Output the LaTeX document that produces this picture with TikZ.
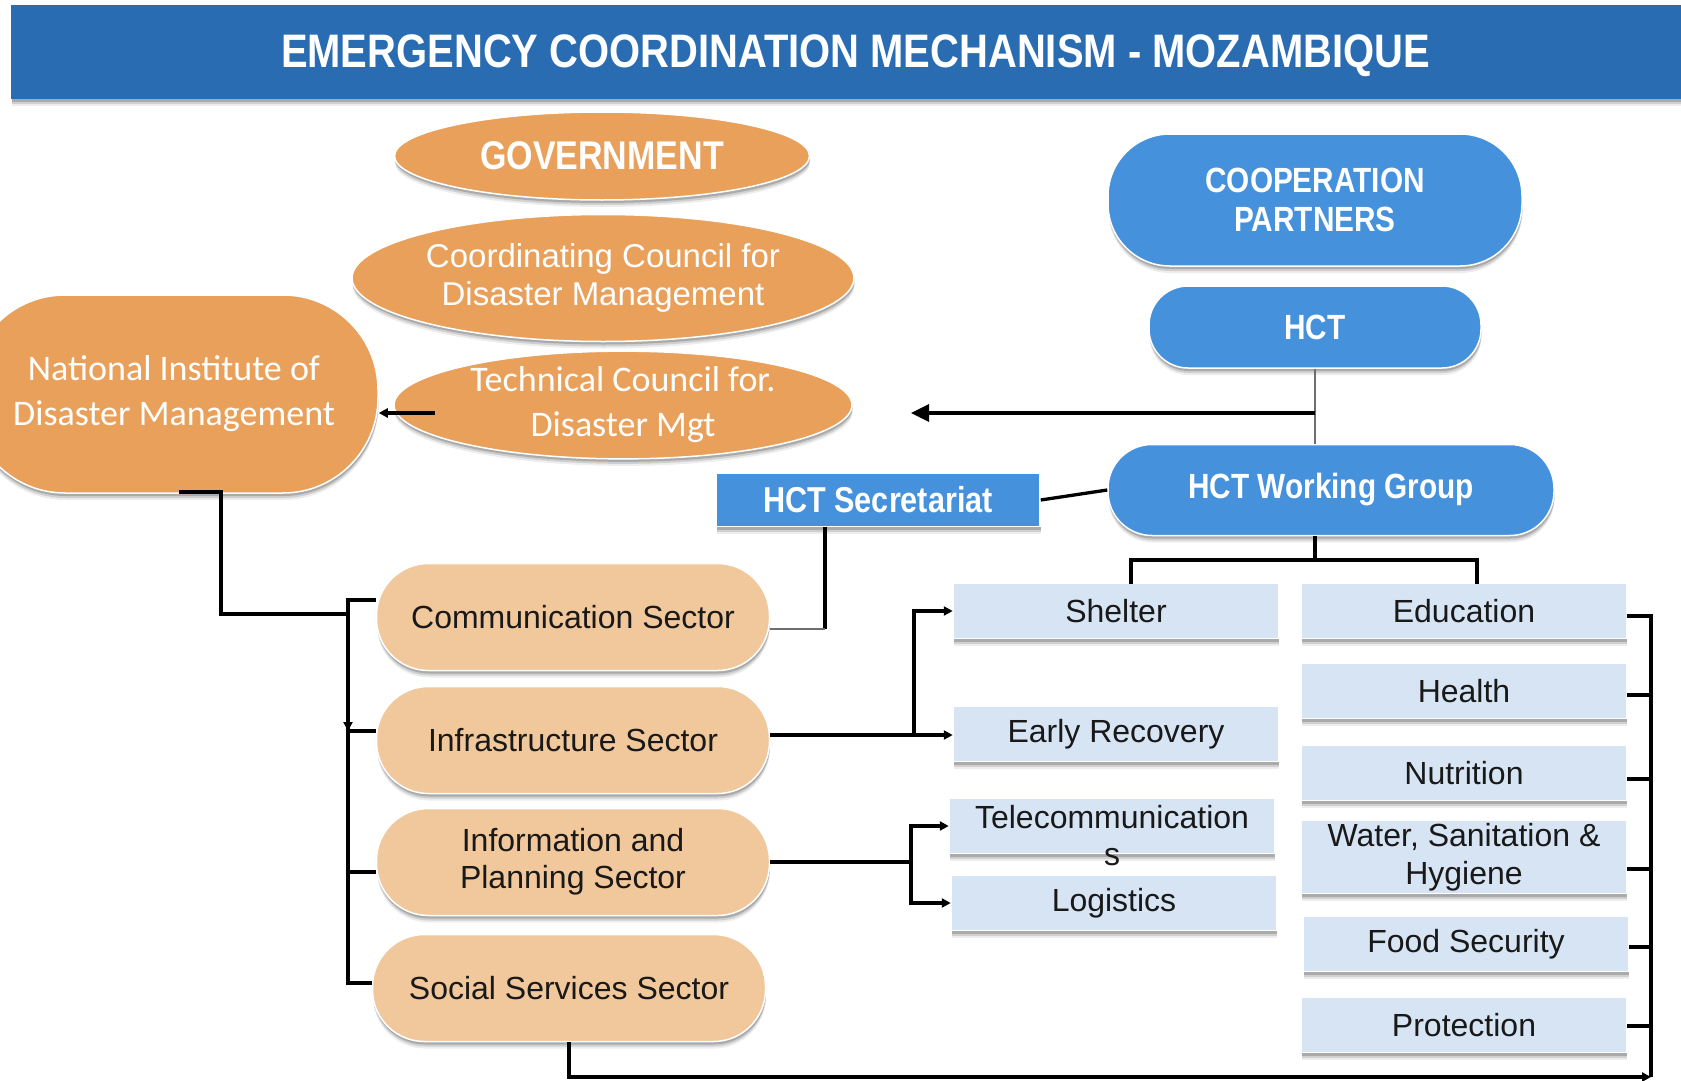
\documentclass[tikz,border=0pt]{standalone}
\usepackage{fontspec}
\setmainfont{Liberation Sans}
\newfontfamily\condfam[FakeStretch=0.85]{Liberation Sans}
\newfontfamily\calfam{Carlito}
\usetikzlibrary{shapes.geometric,shadows,arrows.meta}
\definecolor{titleblue}{RGB}{41,108,178}
\definecolor{orng}{RGB}{233,160,91}
\definecolor{peach}{RGB}{241,199,156}
\definecolor{hblue}{RGB}{70,145,220}
\definecolor{lbox}{RGB}{214,228,244}
\definecolor{lgray}{RGB}{110,110,110}
\tikzset{
  shad/.style={
    drop shadow={shadow xshift=0.5pt,shadow yshift=-7pt,opacity=0.07,fill=black},
    drop shadow={shadow xshift=0.5pt,shadow yshift=-5pt,opacity=0.12,fill=black},
    drop shadow={shadow xshift=0.5pt,shadow yshift=-3pt,opacity=0.18,fill=black}},
  base/.style={inner sep=0pt, align=center, draw=white, line width=1.5pt, shad},
  bar/.style={base, rectangle, fill=titleblue, text=white, draw=none,
    font=\condfam\bfseries\fontsize{47}{50}\selectfont},
  oell/.style={base, ellipse, fill=orng, text=white},
  bstad/.style={base, rectangle, fill=hblue, text=white,
    font=\condfam\bfseries\fontsize{35}{39}\selectfont},
  sector/.style={base, rectangle, fill=peach, text=black!90, rounded corners=52pt,
    minimum width=393pt, minimum height=107pt, font=\fontsize{32}{37}\selectfont},
  cluster/.style={base, rectangle, fill=lbox, text=black!90,
    minimum width=325pt, minimum height=55pt, font=\fontsize{32}{38}\selectfont},
  conn/.style={draw=black, line width=3.3pt},
  grayconn/.style={draw=lgray, line width=2.5pt},
  bigtip/.style={-{Triangle[length=18pt,width=17pt]}},
  smalltip/.style={-{Triangle[length=9pt,width=9pt]}}
}
\begin{document}
\begin{tikzpicture}[x=1pt,y=-1pt]
\useasboundingbox (0,0) rectangle (1681,1081);
\clip (0,0) rectangle (1681,1081);

% title
\node[bar, minimum width=1689pt, minimum height=94pt] (titlebar) at (855.5,52)
  {\raisebox{-16pt}[0pt][0pt]{EMERGENCY COORDINATION MECHANISM - MOZAMBIQUE}};

% government side
\node[oell, minimum width=415pt, minimum height=88pt,
  font=\condfam\bfseries\fontsize{40}{44}\selectfont] (gov) at (602,156) {GOVERNMENT};
\node[oell, minimum width=502pt, minimum height=127pt,
  font=\fontsize{33}{38}\selectfont] (ccdm) at (603,278)
  {Coordinating Council for\\Disaster Management};
\node[base, rectangle, rounded corners=95pt, fill=orng, text=white,
  minimum width=408pt, minimum height=198pt,
  font=\calfam\fontsize{36}{45}\selectfont] (nidm) at (174,394)
  {National Institute of\\Disaster Management};
\node[oell, minimum width=458pt, minimum height=96pt,
  font=\calfam\fontsize{36}{45}\selectfont] (tcdm) at (623,405)
  {Technical Council for.\\Disaster Mgt};

% cooperation side
\node[bstad, rounded corners=62pt, minimum width=414pt, minimum height=132pt] (coop) at (1315,200)
  {COOPERATION\\PARTNERS};
\node[bstad, rounded corners=39pt, minimum width=332pt, minimum height=82pt] (hct) at (1315,327) {HCT};
\node[bstad, rounded corners=44pt, minimum width=446pt, minimum height=91pt] (wg) at (1331,490)
  {HCT Working Group};
\node[base, rectangle, fill=hblue, text=white, minimum width=324pt, minimum height=53pt,
  font=\condfam\bfseries\fontsize{36}{40}\selectfont] (sec) at (878,500) {HCT Secretariat};

% sectors
\node[sector] (comm) at (573,617) {Communication Sector};
\node[sector] (infra) at (573,740) {Infrastructure Sector};
\node[sector] (info) at (573,862) {Information and\\Planning Sector};
\node[sector] (social) at (569,988) {Social Services Sector};

% clusters left
\node[cluster] (shelter) at (1116,611) {Shelter};
\node[cluster] (er) at (1116,734) {Early Recovery};
\node[cluster] (tel) at (1112,826)
  {\raisebox{-4pt}{\smash{\begin{tabular}[t]{@{}c@{}}Telecommunication\\[-1pt]s\end{tabular}}}};
\node[cluster] (log) at (1114,903) {Logistics};
% clusters right
\node[cluster] (edu) at (1464,611) {Education};
\node[cluster] (health) at (1464,691) {Health};
\node[cluster] (nutr) at (1464,773) {Nutrition};
\node[cluster, minimum height=73pt] (wash) at (1464,857) {Water, Sanitation \&\\Hygiene};
\node[cluster] (food) at (1466,944) {Food Security};
\node[cluster] (prot) at (1464,1025) {Protection};

% connectors: government
\draw[conn, smalltip] ([xshift=42pt,yshift=-8pt]tcdm.west) -- ([yshift=-8pt]tcdm.west -| nidm.east);

\coordinate (b1) at (221,614);
\coordinate (bustop) at (348,600);
\coordinate (busL) at (348,614);
\coordinate (busbot) at (348,983);
\draw[conn, line width=3.8pt] ([xshift=5pt,yshift=2pt]nidm.south) -| (b1) -- (busL);
\draw[conn] ([yshift=17pt]comm.west) -- (bustop) -- (busbot) -- ([yshift=5pt]social.west);
\draw[conn, smalltip] (busL) -- (348,731);
\draw[conn] ([yshift=9pt]infra.west) -- ([yshift=9pt]infra.west -| bustop);
\draw[conn] ([yshift=-10pt]info.west) -- ([yshift=-10pt]info.west -| bustop);

% cooperation connectors
\coordinate (hctj) at (1315,413);
\coordinate (arrend) at (911,413);
\draw[grayconn] (hct.south) -- (hct.south |- wg.north);
\draw[conn, bigtip] (hctj) -- (arrend);
\draw[conn] (sec.east) -- (wg.west);

\coordinate (seccorner) at (825,629);
\draw[conn] (sec.south -| seccorner) -- (seccorner);
\draw[grayconn] (seccorner) -- (comm.east |- seccorner);

\coordinate (wgj) at (1315,560);
\coordinate (wgl) at (1131,584);
\coordinate (wgr) at (1477,584);
\draw[conn] (wgj |- wg.south) -- (wgj);
\draw[conn] (wgl) |- (wgj) -| (wgr);

% sector to clusters
\coordinate (infj) at (914,735);
\draw[conn, smalltip] ([yshift=5pt]infra.east) -- ([yshift=-1pt]er.west);
\draw[conn, smalltip] (infj) |- (shelter.west);
\coordinate (infoj) at (911,862);
\draw[conn] (info.east) -- (infoj);
\draw[conn, smalltip] (infoj) |- (tel.west);
\draw[conn, smalltip] (infoj) |- (log.west);

% right bus
\coordinate (rbtop) at (1651,616);
\coordinate (rbbot) at (1651,1077);
\draw[conn] ([yshift=-5pt]edu.east) -- (rbtop) -- (rbbot);
\draw[conn] ([yshift=-4pt]health.east) -- ([yshift=-4pt]health.east -| rbtop);
\draw[conn] ([yshift=-6pt]nutr.east) -- ([yshift=-6pt]nutr.east -| rbtop);
\draw[conn] ([yshift=-12pt]wash.east) -- ([yshift=-12pt]wash.east -| rbtop);
\draw[conn] ([yshift=-3pt]food.east) -- ([yshift=-3pt]food.east -| rbtop);
\draw[conn] ([yshift=-1pt]prot.east) -- ([yshift=-1pt]prot.east -| rbtop);
\draw[conn, smalltip] (social.south) -- (social.south |- rbbot) -- (rbbot);
\end{tikzpicture}
\end{document}
